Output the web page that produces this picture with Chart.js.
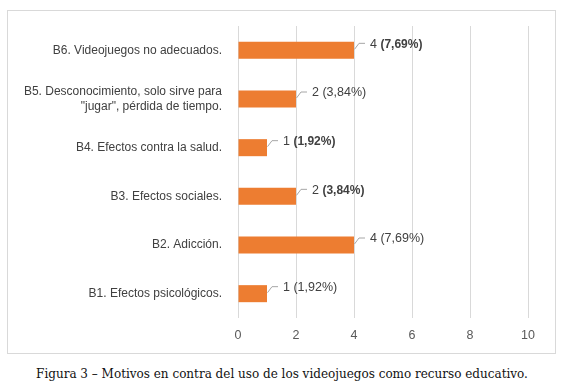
<!DOCTYPE html>
<html>
<head>
<meta charset="utf-8">
<script src="https://cdn.jsdelivr.net/npm/chart.js@4"></script>
<style>
  html, body { margin: 0; padding: 0; background: #fff; }
  body { width: 564px; height: 390px; position: relative; overflow: hidden; }
  #frame {
    position: absolute; left: 7px; top: 10px;
    width: 547px; height: 342px;
    border: 1px solid #d9d9d9;
  }
  #caption {
    position: absolute; left: 0; width: 564px; top: 367px;
    text-align: center;
    font-family: "DejaVu Serif", serif; font-size: 12px; color: #111;
  }
</style>
</head>
<body>
<div id="frame"><canvas id="reasonsChart" width="547" height="342"></canvas></div>
<div id="caption">Figura 3 – Motivos en contra del uso de los videojuegos como recurso educativo.</div>
<script>
// categories, top to bottom as in the picture
const categories = [
  "B6. Videojuegos no adecuados.",
  ["B5. Desconocimiento, solo sirve para", "\"jugar\", pérdida de tiempo."],
  "B4. Efectos contra la salud.",
  "B3. Efectos sociales.",
  "B2. Adicción.",
  "B1. Efectos psicológicos."
];
const counts = [4, 2, 1, 2, 4, 1];
const percents = ["7,69%", "3,84%", "1,92%", "3,84%", "7,69%", "1,92%"];
const xTicks = [0, 2, 4, 6, 8, 10];

const labelFont = '"Liberation Sans", sans-serif';

// data labels with a small leader line, like Excel
// (some of the percentages are bold in the original figure)
const leaderLabels = {
  id: "leaderLabels",
  afterDatasetsDraw(chart) {
    const ctx = chart.ctx;
    const meta = chart.getDatasetMeta(0);
    const boldPct = [0, 2, 3];
    ctx.save();
    meta.data.forEach((bar, i) => {
      const x = bar.x, y = bar.y;
      ctx.strokeStyle = "#a6a6a6";
      ctx.lineWidth = 1;
      ctx.beginPath();
      ctx.moveTo(x + 0.5, y - 1);
      ctx.lineTo(x + 5, y - 7);
      ctx.lineTo(x + 11, y - 7);
      ctx.stroke();
      ctx.fillStyle = "#404040";
      ctx.textBaseline = "middle";
      ctx.textAlign = "left";
      const head = counts[i] + " ";
      ctx.font = "12.5px " + labelFont;
      ctx.fillText(head, x + 16, y - 6);
      const w = ctx.measureText(head).width;
      if (boldPct.includes(i)) ctx.font = "bold 12px " + labelFont;
      ctx.fillText("(" + percents[i] + ")", x + 16 + w, y - 6);
    });
    ctx.restore();
  }
};

new Chart(document.getElementById("reasonsChart"), {
  type: "bar",
  data: {
    labels: categories,
    datasets: [{
      data: counts,
      backgroundColor: "#ed7d31",
      barPercentage: 0.35,
      categoryPercentage: 1
    }]
  },
  plugins: [leaderLabels],
  options: {
    indexAxis: "y",
    responsive: false,
    animation: false,
    layout: { padding: { top: 15, right: 27, bottom: 0, left: 0 } },
    plugins: { legend: { display: false }, tooltip: { enabled: false } },
    scales: {
      x: {
        min: 0, max: 10,
        afterBuildTicks: (axis) => { axis.ticks = xTicks.map(v => ({ value: v })); },
        afterFit: (axis) => { axis.height = 35; },
        grid: { color: "#d9d9d9", drawTicks: false },
        border: { display: false },
        ticks: { padding: 10, color: "#595959", font: { family: labelFont, size: 12.5 } }
      },
      y: {
        afterFit: (axis) => {
          axis.width = 230;
          axis.paddingTop = 0;
          axis.paddingBottom = 0;
        },
        grid: { display: false, drawTicks: false },
        border: { display: false },
        ticks: { padding: 16, color: "#404040", font: { family: labelFont, size: 12 } }
      }
    }
  }
});
</script>
</body>
</html>
